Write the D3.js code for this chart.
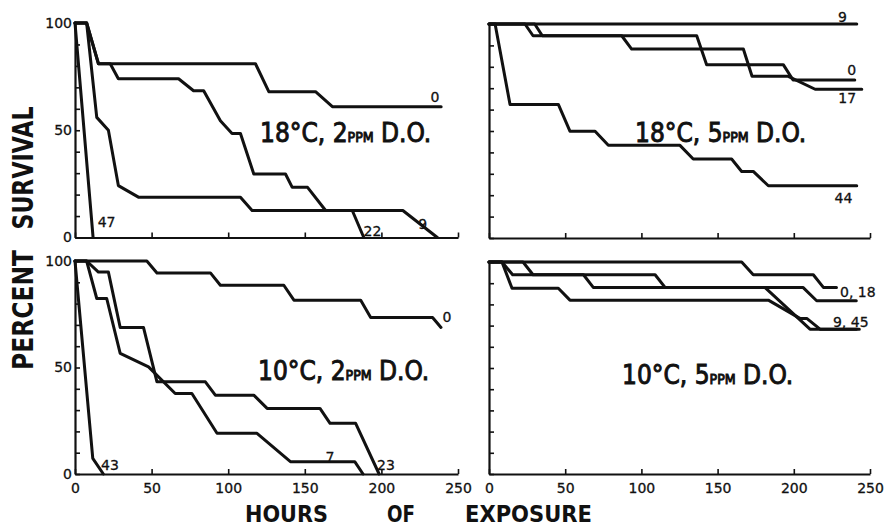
<!DOCTYPE html>
<html>
<head>
<meta charset="utf-8">
<script src="https://cdn.jsdelivr.net/npm/d3@7"></script>
<style>
  html, body { margin: 0; padding: 0; background: #fff; }
  svg { display: block; }
</style>
</head>
<body>
<svg id="chart" width="886" height="529"></svg>
<script>
// Tick values shared by the four panels
const hourTicks = [0, 50, 100, 150, 200, 250];
const percentTicks = [0, 10, 20, 30, 40, 50, 60, 70, 80, 90, 100];
const percentLabels = [0, 50, 100];

// Survival curves, [hours of exposure, percent survival]
// 18 °C, 2 ppm D.O.
const t18do2_0  = [[0,100],[7.6,100],[15.3,81],[117.8,81],[126.5,68],[157,68],[168,61],[239,61]];
const t18do2_9  = [[0,100],[7.6,100],[15.3,81],[23,81],[28.3,74],[67.6,74],[77.4,68.4],[84,68.4],[94.9,54.4],[102.5,48.5],[108,48.5],[116.7,29.6],[137.4,29.6],[141.8,23.4],[151.8,23.4],[163.6,12.6],[214,12.6],[236.5,0]];
const t18do2_22 = [[0,100],[7.6,100],[14.2,56],[21.8,50],[28.3,24.2],[41.4,18.8],[108,18.8],[115.6,12.6],[181,12.6],[188.5,0]];
const t18do2_47 = [[0,100],[11.8,0]];

// 18 °C, 5 ppm D.O.
const t18do5_9  = [[0,100],[241.3,100]];
const t18do5_0  = [[0,100],[30,100],[35,94.5],[136.3,94.5],[142.8,81],[193.1,81],[199.5,73.8],[240,73.8]];
const t18do5_17 = [[0,100],[23.6,100],[28.9,94.5],[87.1,94.5],[93.6,88.3],[166.9,88.3],[172.6,75.6],[196,75.6],[214,69.5],[244.6,69.5]];
const t18do5_44 = [[0,100],[4,100],[13.8,62.4],[45.5,62.4],[53.1,49.9],[69.6,49.9],[78.3,43.3],[125.3,43.3],[134,36.9],[159.2,36.9],[165.8,31.1],[173.4,31.1],[183.3,24.4],[241.3,24.4]];

// 10 °C, 2 ppm D.O.
const t10do2_0  = [[0,100],[46.9,100],[53.5,94.4],[88.4,94.4],[94.9,88.6],[136.3,88.6],[142.9,81.6],[186.5,81.6],[193,73.5],[233.4,73.5],[238.9,68.8]];
const t10do2_7  = [[0,100],[7.6,100],[14.2,82.4],[20.7,82.4],[29.5,56.6],[48,50.3],[65.4,37.8],[76.3,37.8],[92.7,19.1],[118.8,19.1],[140.6,5.8],[182.6,5.8],[188,0]];
const t10do2_23 = [[0,100],[7.6,100],[15.3,94.8],[21.8,94.8],[29.5,68.8],[44.7,68.8],[53.5,43.3],[85.1,43.3],[91.6,37],[116.7,37],[125.4,30.8],[159.9,30.8],[166.5,23.8],[183.2,23.8],[198.5,0]];
const t10do2_43 = [[0,100],[11.6,7.3],[18.5,0]];

// 10 °C, 5 ppm D.O.
const t10do5_0  = [[0,100],[165.8,100],[173.4,94],[212.8,94],[219.4,88],[228,88]];
const t10do5_18 = [[0,100],[22.3,100],[28.9,94],[109,94],[115.5,88],[206,88],[215,81.7],[241,81.7]];
const t10do5_9  = [[0,100],[8.5,100],[15.5,94],[62,94],[68.4,88],[181,88],[210.6,68.3],[243,68.3]];
const t10do5_45 = [[0,100],[8.5,100],[15.1,87.6],[45.5,87.6],[53.1,82],[183.3,82],[204,73.4],[208.5,73.4],[217.2,68.3],[241,68.3]];

// Panel layout; curve labels are anchored in data units (hours, percent)
const panels = [
  { title: ["18°C, 2", "PPM", " D.O."], titleX: 260, titleY: 142,
    xRange: [75, 458], yRange: [237.5, 23], xLabels: false, yLabels: true,
    series: [t18do2_0, t18do2_9, t18do2_22, t18do2_47],
    labels: [["0", 235, 63.3, "middle"], ["47", 20.6, 4.9, "middle"], ["22", 194.2, 0.6, "middle"], ["9", 227, 4, "middle"]] },
  { title: ["18°C, 5", "PPM", " D.O."], titleX: 635, titleY: 142,
    xRange: [489, 870], yRange: [238, 24], xLabels: false, yLabels: false,
    series: [t18do5_9, t18do5_0, t18do5_17, t18do5_44],
    labels: [["9", 232, 100.8, "middle"], ["0", 238, 76, "middle"], ["17", 235, 63, "middle"], ["44", 232.6, 16.2, "middle"]] },
  { title: ["10°C, 2", "PPM", " D.O."], titleX: 258, titleY: 380,
    xRange: [75, 458], yRange: [474, 261], xLabels: true, yLabels: true,
    series: [t10do2_0, t10do2_7, t10do2_23, t10do2_43],
    labels: [["0", 242.8, 71.5, "middle"], ["43", 22.8, 1.9, "middle"], ["7", 166.4, 5.6, "middle"], ["23", 203, 1.9, "middle"]] },
  { title: ["10°C, 5", "PPM", " D.O."], titleX: 622, titleY: 384,
    xRange: [489, 870], yRange: [474, 262], xLabels: true, yLabels: false,
    series: [t10do5_0, t10do5_18, t10do5_9, t10do5_45],
    labels: [["0, 18", 230.3, 83.3, "start"], ["9, 45", 225.7, 69.2, "start"]] }
];

const ink = "#111";
const svg = d3.select("#chart");
svg.append("rect").attr("width", 886).attr("height", 529).attr("fill", "#fff");

panels.forEach(p => {
  const x = d3.scaleLinear().domain([0, 250]).range(p.xRange);
  const y = d3.scaleLinear().domain([0, 100]).range(p.yRange);
  const g = svg.append("g");

  const xAxis = d3.axisBottom(x)
    .tickValues(hourTicks)
    .tickSizeInner(-5).tickSizeOuter(0).tickPadding(9)
    .tickFormat(d => p.xLabels ? d : "");
  const yAxis = d3.axisLeft(y)
    .tickValues(percentTicks)
    .tickSizeInner(-5).tickSizeOuter(0).tickPadding(3)
    .tickFormat(d => (p.yLabels && percentLabels.includes(d)) ? d : "");

  const gx = g.append("g").attr("transform", `translate(0,${p.yRange[0]})`).call(xAxis);
  const gy = g.append("g").attr("transform", `translate(${p.xRange[0]},0)`).call(yAxis);
  [gx, gy].forEach(a => {
    a.select(".domain").attr("stroke", ink).attr("stroke-width", 2.2);
    a.selectAll(".tick line").attr("stroke", ink).attr("stroke-width", 1.6);
    a.selectAll(".tick text")
      .attr("fill", ink)
      .attr("stroke", ink)
      .attr("stroke-width", 0.3)
      .style("font-family", "'DejaVu Sans', sans-serif")
      .style("font-size", "14px");
  });

  const line = d3.line().x(d => x(d[0])).y(d => y(d[1]));
  p.series.forEach(s => {
    g.append("path")
      .attr("d", line(s))
      .attr("fill", "none")
      .attr("stroke", ink)
      .attr("stroke-width", 3)
      .attr("stroke-linejoin", "round")
      .attr("stroke-linecap", "round");
  });

  p.labels.forEach(([txt, h, v, anchor]) => {
    g.append("text")
      .attr("x", x(h)).attr("y", y(v))
      .attr("text-anchor", anchor)
      .attr("fill", ink)
      .attr("stroke", ink)
      .attr("stroke-width", 0.3)
      .style("font-family", "'DejaVu Sans', sans-serif")
      .style("font-size", "14px")
      .text(txt);
  });

  // Panel title with "PPM" set in small capitals
  const t = g.append("text")
    .attr("x", p.titleX).attr("y", p.titleY)
    .attr("fill", ink)
    .attr("stroke", ink)
    .attr("stroke-width", 0.9)
    .style("font-family", "'DejaVu Sans Condensed', 'DejaVu Sans', sans-serif");
  t.append("tspan").style("font-size", "26px").text(p.title[0]);
  t.append("tspan").style("font-size", "14px").text(p.title[1]);
  t.append("tspan").style("font-size", "26px").text(p.title[2]);
});

// Axis titles
const titleFont = "'DejaVu Sans', sans-serif";
[["SURVIVAL", 168, 123], ["PERCENT", 310, 120]].forEach(([txt, cy, len]) => {
  svg.append("text")
    .attr("transform", `translate(33,${cy}) rotate(-90)`)
    .attr("text-anchor", "middle")
    .attr("textLength", len)
    .attr("lengthAdjust", "spacingAndGlyphs")
    .attr("fill", ink)
    .style("font-family", titleFont)
    .style("font-weight", "bold")
    .style("font-size", "29px")
    .text(txt);
});
[["HOURS", 245, 83], ["OF", 387, 28], ["EXPOSURE", 465, 127]].forEach(([txt, x0, len]) => {
  svg.append("text")
    .attr("x", x0).attr("y", 522)
    .attr("textLength", len)
    .attr("lengthAdjust", "spacingAndGlyphs")
    .attr("fill", ink)
    .style("font-family", titleFont)
    .style("font-weight", "bold")
    .style("font-size", "23px")
    .text(txt);
});
</script>
</body>
</html>
